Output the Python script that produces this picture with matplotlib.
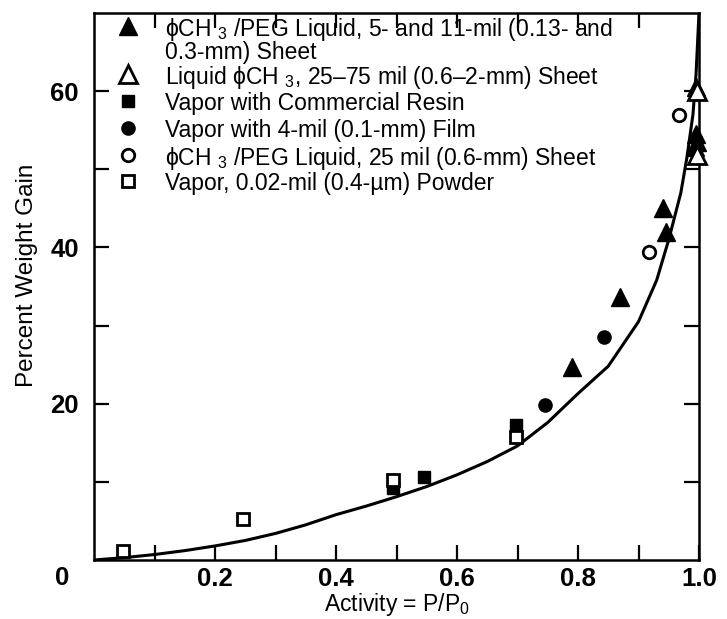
import matplotlib
matplotlib.use("Agg")
import matplotlib.pyplot as plt
from matplotlib.ticker import FixedLocator

plt.rcParams['font.family'] = ['Liberation Sans', 'DejaVu Sans']
plt.rcParams['mathtext.fontset'] = 'custom'
plt.rcParams['mathtext.rm'] = 'Liberation Sans'
plt.rcParams['mathtext.it'] = 'Liberation Sans:italic'
plt.rcParams['mathtext.bf'] = 'Liberation Sans:bold'

# ---- data ----
curve_x = [0.0, 0.05, 0.1, 0.15, 0.2, 0.25, 0.3, 0.35, 0.4, 0.45, 0.5, 0.55, 0.6,
           0.65, 0.7, 0.75, 0.8, 0.85, 0.9, 0.93, 0.95, 0.97, 0.98, 0.99, 0.995, 1.0]
curve_y = [0.0, 0.3, 0.7, 1.2, 1.8, 2.5, 3.4, 4.5, 5.8, 6.9, 8.1, 9.4, 10.9,
           12.6, 14.6, 17.6, 21.3, 24.8, 30.5, 35.8, 41.0, 47.0, 51.5, 57.0, 62.0, 70.0]

peg_thin_x = [0.79, 0.87, 0.94, 0.945, 0.995, 0.995, 0.997, 0.993]
peg_thin_y = [24.7, 33.7, 45.0, 42.0, 60.5, 54.5, 53.5, 52.8]

liquid_x = [0.997, 0.997]
liquid_y = [60.0, 51.8]

resin_x = [0.495, 0.545, 0.697]
resin_y = [9.2, 10.6, 17.3]

film_x = [0.745, 0.843]
film_y = [19.8, 28.6]

peg_thick_x = [0.918, 0.967]
peg_thick_y = [39.4, 56.9]

powder_x = [0.048, 0.247, 0.495, 0.697]
powder_y = [1.1, 5.3, 10.3, 15.8]

legend_labels = [
    ["\u03d5CH $_{3}$ /PEG Liquid, 5- and 11-mil (0.13- and", "0.3-mm) Sheet"],
    ["Liquid \u03d5CH $_{3}$, 25\u201375 mil (0.6\u20132-mm) Sheet"],
    ["Vapor with Commercial Resin"],
    ["Vapor with 4-mil (0.1-mm) Film"],
    ["\u03d5CH $_{3}$ /PEG Liquid, 25 mil (0.6-mm) Sheet"],
    ["Vapor, 0.02-mil (0.4-\u00b5m) Powder"],
]

x_ticklabels = ["0.2", "0.4", "0.6", "0.8", "1.0"]
y_ticklabels = ["20", "40", "60"]

# ---- figure ----
W, H = 727, 619
fig = plt.figure(figsize=(W / 100, H / 100), dpi=100)
L, R, T, B = 94, 699, 13, 560
ax = fig.add_axes([L / W, (H - B) / H, (R - L) / W, (B - T) / H])

ax.plot(curve_x, curve_y, color='black', lw=2.2, zorder=2, solid_capstyle='round')

styles = [
    dict(marker='^', ms=13, mfc='black', mec='black', mew=1),
    dict(marker='^', ms=13, mfc='white', mec='black', mew=2),
    dict(marker='s', ms=8.5, mfc='black', mec='black', mew=1),
    dict(marker='o', ms=9.5, mfc='black', mec='black', mew=1),
    dict(marker='o', ms=9, mfc='white', mec='black', mew=2),
    dict(marker='s', ms=8, mfc='white', mec='black', mew=2),
]
series = [(peg_thin_x, peg_thin_y), (liquid_x, liquid_y), (resin_x, resin_y),
          (film_x, film_y), (peg_thick_x, peg_thick_y), (powder_x, powder_y)]
for (xs, ys), st in zip(series, styles):
    ax.plot(xs, ys, ls='none', zorder=3, clip_on=False, **st)

ax.set_xlim(0, 1.0)
ax.set_ylim(0, 70)

ax.xaxis.set_major_locator(FixedLocator([0.2, 0.4, 0.6, 0.8, 1.0]))
ax.xaxis.set_minor_locator(FixedLocator([0.1, 0.3, 0.5, 0.7, 0.9]))
ax.set_xticklabels(x_ticklabels)
ax.yaxis.set_major_locator(FixedLocator([20, 40, 60]))
ax.yaxis.set_minor_locator(FixedLocator([10, 30, 50]))
ax.set_yticklabels(y_ticklabels)

for which in ('major', 'minor'):
    ax.tick_params(axis='both', which=which, direction='in', length=11, width=1.6,
                   top=True, right=True, color='black')
ax.tick_params(axis='x', which='major', pad=5, labelsize=18.5)
ax.tick_params(axis='y', which='major', pad=11, labelsize=18.5)
for lab in ax.get_xticklabels() + ax.get_yticklabels():
    lab.set_fontweight('bold')

for sp in ax.spines.values():
    sp.set_linewidth(1.8)

# origin label
ax.text(-0.052, -0.033, "0", transform=ax.transAxes, ha='center', va='center',
        fontsize=18.5, fontweight='bold')

ax.set_xlabel("Activity = P/P$_0$", fontsize=16.5, labelpad=0)
ax.set_ylabel("Percent Weight Gain", fontsize=17.5)
ax.yaxis.set_label_coords(-0.092, 0.52)

# legend (manual)
def ay(py):
    return (B - py) / (B - T)

mx = (128 - L) / (R - L)
tx = (165 - L) / (R - L)
rows = [[26, 50], [74], [101], [128], [155], [181]]
for st, labs, pys in zip(styles, legend_labels, rows):
    ax.plot([mx], [ay(pys[0])], transform=ax.transAxes, clip_on=False, ls='none', **st)
    for lab, py in zip(labs, pys):
        ax.text(tx, ay(py), lab, transform=ax.transAxes, ha='left', va='center_baseline',
                fontsize=16.5)

fig.savefig("out.png", dpi=100)
